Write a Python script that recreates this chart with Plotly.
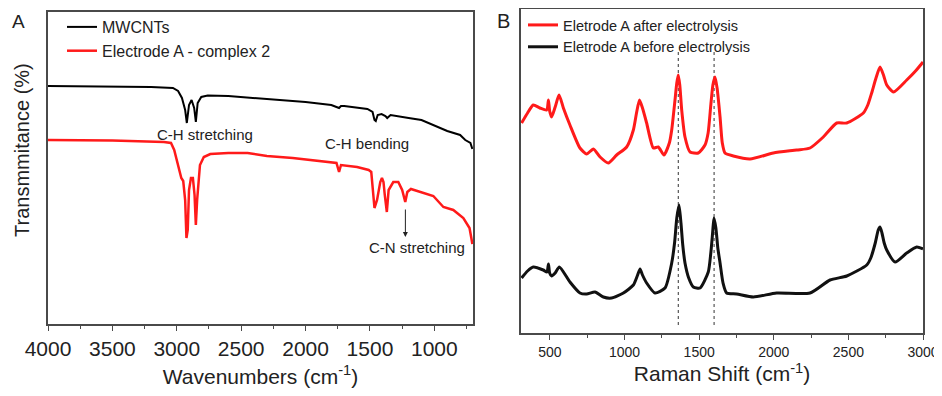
import plotly.graph_objects as go

# --- FTIR (panel A) ---
ir_wn_mw = [4000, 3500, 3200, 3030, 2990, 2960, 2935, 2922, 2905, 2885, 2865, 2852, 2838, 2810,
            2760, 2600, 2400, 2200, 2000, 1800, 1740, 1725, 1700, 1520, 1480, 1465, 1455, 1440,
            1410, 1380, 1366, 1340, 1265, 1200, 1100, 1008, 900, 800, 760, 720, 705]
ir_t_mw = [238, 237.5, 237, 236, 233, 226, 214, 201, 219, 224, 216, 202, 221, 227,
           228.5, 228, 226, 224, 222, 219, 216, 218, 218, 215, 212, 204, 203, 209,
           210, 208, 206, 209, 207, 206, 204, 199, 193, 189, 184, 181, 175]

ir_wn_el = [4000, 3500, 3100, 3045, 3020, 3000, 2985, 2965, 2950, 2935, 2925, 2915, 2905, 2890,
            2875, 2862, 2852, 2842, 2820, 2790, 2740, 2600, 2450, 2300, 2100, 1900, 1760, 1740,
            1725, 1600, 1510, 1490, 1475, 1465, 1445, 1420, 1407, 1395, 1385, 1369, 1355, 1319,
            1280, 1250, 1226, 1210, 1182, 1100, 1008, 930, 853, 775, 727, 713, 705]
ir_t_el = [184, 183.5, 182, 181, 174, 164, 154, 146, 143, 124, 86, 94, 134, 146,
           146, 129, 99, 124, 159, 167, 170, 171, 171, 168, 166, 163, 161, 152,
           159, 157, 154, 152, 129, 116, 124, 142, 146, 142, 129, 112, 134, 142,
           142, 134, 122, 132, 135, 132, 128, 117, 114, 106, 96, 86, 80]

# --- Raman (panel B) ---
ram_x_after = [310, 350, 388, 433, 478, 490, 498, 511, 535, 561, 590, 634, 701, 746, 791, 836,
               891, 947, 1014, 1059, 1080, 1100, 1120, 1148, 1193, 1226, 1264, 1300, 1316, 1338,
               1350, 1360, 1370, 1383, 1405, 1439, 1494, 1539, 1560, 1578, 1592, 1606, 1620,
               1640, 1655, 1673, 1729, 1841, 1997, 2154, 2243, 2332, 2422, 2489, 2600, 2630,
               2656, 2685, 2712, 2735, 2757, 2802, 2891, 2950, 3000]
ram_y_after = [210, 220, 228, 225, 223, 233, 222, 216, 226, 238, 225, 208, 185, 179, 184, 176,
               170, 178, 186, 203, 220, 233, 225, 210, 185, 186, 178, 190, 203, 233,
               250, 258, 248, 223, 196, 181, 180, 188, 200, 228, 248, 256, 245,
               216, 190, 180, 177, 174, 180, 183, 185, 196, 210, 210, 220, 228,
               240, 255, 266, 258, 248, 241, 253, 262, 271]

ram_x_before = [310, 350, 388, 455, 480, 490, 498, 511, 535, 563, 634, 701, 746, 802, 858, 913,
                992, 1059, 1085, 1104, 1120, 1148, 1204, 1271, 1316, 1335, 1350, 1365, 1378,
                1390, 1405, 1430, 1461, 1506, 1561, 1578, 1590, 1599, 1612, 1625, 1640, 1660,
                1684, 1751, 1863, 2019, 2243, 2377, 2489, 2623, 2650, 2680, 2700, 2712, 2725,
                2740, 2757, 2813, 2891, 2958, 3000]
ram_y_before = [55, 62, 66, 63, 61, 69, 60, 57, 60, 66, 51, 40, 39, 41, 36, 35,
                40, 48, 57, 64, 58, 50, 40, 45, 70, 90, 115, 128, 110,
                88, 70, 55, 46, 45, 61, 80, 100, 115, 105, 85, 70, 50,
                40, 39, 36, 40, 40, 53, 57, 68, 75, 90, 103, 106, 100,
                90, 83, 71, 80, 86, 84]

raman_marks = [1360, 1600]

font = "Arial, Liberation Sans, sans-serif"
axcol = "#4a4a4a"

# page body has an 8px margin, so the figure is 8px smaller and everything is shifted by 8
W, H, OFF = 934, 388, 8
def fx(p):
    return (p - OFF) / W
def fy(p):
    return 1 - (p - OFF) / H

fig = go.Figure()
fig.add_trace(go.Scatter(x=ir_wn_mw, y=ir_t_mw, mode="lines", name="MWCNTs",
                         line=dict(color="black", width=2), xaxis="x", yaxis="y", legend="legend"))
fig.add_trace(go.Scatter(x=ir_wn_el, y=ir_t_el, mode="lines", name="Electrode A - complex 2",
                         line=dict(color="#ff1a1a", width=2.5), xaxis="x", yaxis="y", legend="legend"))
fig.add_trace(go.Scatter(x=ram_x_after, y=ram_y_after, mode="lines", name="Eletrode A after electrolysis",
                         line=dict(color="#ff1a1a", width=3, shape="spline", smoothing=0.6),
                         xaxis="x2", yaxis="y2", legend="legend2"))
fig.add_trace(go.Scatter(x=ram_x_before, y=ram_y_before, mode="lines", name="Eletrode A before electrolysis",
                         line=dict(color="#111111", width=3, shape="spline", smoothing=0.6),
                         xaxis="x2", yaxis="y2", legend="legend2"))

for xm in raman_marks:
    fig.add_shape(type="line", x0=xm, x1=xm, y0=8, y1=283, xref="x2", yref="y2",
                  line=dict(color="#333", width=1, dash="dot"), layer="below")

axis_common = dict(showgrid=False, zeroline=False, showline=True, linecolor=axcol, linewidth=1.5,
                   mirror=True)
fig.update_layout(
    width=W, height=H, margin=dict(l=0, r=0, t=0, b=0, autoexpand=False),
    paper_bgcolor="white", plot_bgcolor="white", font=dict(family=font, color="#222"),
    xaxis=dict(domain=[fx(48), fx(473)], range=[4000, 700], anchor="y", dtick=500,
               ticks="outside", ticklen=5, tickcolor=axcol, tickfont=dict(size=21),
               minor=dict(dtick=250, ticks="outside", ticklen=3, tickcolor=axcol),
               title=dict(text="Wavenumbers (cm<sup>-1</sup>)", font=dict(size=21), standoff=10),
               **axis_common),
    yaxis=dict(domain=[fy(324), fy(12)], range=[0, 312], anchor="x", showticklabels=False,
               ticks="", **axis_common),
    xaxis2=dict(domain=[fx(521), fx(923)], range=[306, 3000], anchor="y2", dtick=500,
                ticks="outside", ticklen=5, tickcolor=axcol, tickfont=dict(size=14),
                minor=dict(dtick=250, ticks="outside", ticklen=3, tickcolor=axcol),
                title=dict(text="Raman Shift (cm<sup>-1</sup>)", font=dict(size=21), standoff=0),
                **axis_common),
    yaxis2=dict(domain=[fy(333), fy(9)], range=[0, 324], anchor="x2", showticklabels=False,
                ticks="", **axis_common),
    legend=dict(x=fx(62), y=fy(10), xanchor="left", yanchor="top", bgcolor="rgba(0,0,0,0)",
                font=dict(size=16), tracegroupgap=0, itemwidth=30),
    legend2=dict(x=fx(523), y=fy(9), xanchor="left", yanchor="top", bgcolor="rgba(0,0,0,0)",
                 font=dict(size=14.5), tracegroupgap=0, itemwidth=30),
    showlegend=True,
)

ann = [
    dict(x=2780, y=189, xref="x", yref="y", text="C-H stretching", showarrow=False, font=dict(size=15)),
    dict(x=1521, y=181, xref="x", yref="y", text="C-H bending", showarrow=False, font=dict(size=15)),
    dict(x=1135, y=77, xref="x", yref="y", text="C-N stretching", showarrow=False, font=dict(size=15)),
    dict(x=1225, y=87, ax=1225, ay=116, xref="x", yref="y", axref="x", ayref="y", text="",
         showarrow=True, arrowhead=2, arrowsize=1, arrowwidth=1, arrowcolor="#222"),
    dict(x=fx(18), y=fy(22), xref="paper", yref="paper", xanchor="center", yanchor="middle",
         text="A", showarrow=False, font=dict(size=19)),
    dict(x=fx(503), y=fy(21), xref="paper", yref="paper", xanchor="center", yanchor="middle",
         text="B", showarrow=False, font=dict(size=20)),
    dict(x=fx(22), y=fy(150), xref="paper", yref="paper", xanchor="center", yanchor="middle",
         text="Transmmitance (%)", textangle=-90, showarrow=False, font=dict(size=20)),
]
fig.update_layout(annotations=ann)

fig.write_html("out.html")
